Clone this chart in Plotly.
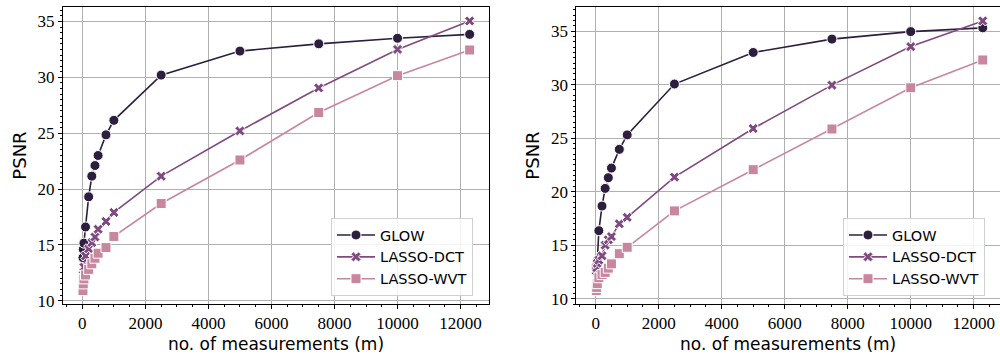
import plotly.graph_objects as go

# ---------------- data ----------------
m = [20, 30, 50, 100, 200, 300, 400, 500, 750, 1000, 2500, 5000, 7500, 10000, 12288]

left_glow = [13.85, 14.6, 15.15, 16.6, 19.3, 21.15, 22.1, 23.0, 24.85, 26.15, 30.2, 32.35, 33.0, 33.5, 33.85]
left_dct = [11.5, 12.3, 13.0, 14.0, 14.65, 15.2, 15.7, 16.4, 17.1, 17.9, 21.15, 25.2, 29.05, 32.5, 35.05]
left_wvt = [10.9, 11.5, 11.95, 12.3, 12.8, 13.3, 13.8, 14.25, 14.75, 15.75, 18.7, 22.6, 26.85, 30.15, 32.45]

right_glow = [12.9, 13.1, 13.5, 16.35, 18.65, 20.3, 21.3, 22.2, 23.95, 25.3, 30.05, 33.0, 34.25, 34.95, 35.3]
right_dct = [12.6, 12.9, 13.3, 13.6, 14.0, 15.0, 15.5, 15.8, 17.0, 17.6, 21.35, 25.9, 29.95, 33.55, 35.95]
right_wvt = [10.75, 11.05, 11.4, 11.95, 12.25, 12.45, 12.85, 13.25, 14.2, 14.8, 18.2, 22.05, 25.85, 29.7, 32.3]

series_names = ["GLOW", "LASSO-DCT", "LASSO-WVT"]
x_title = "no. of measurements (m)"
y_title = "PSNR"

# ---------------- style ----------------
colors = ["#2d1e3e", "#7f4a80", "#c8869f"]
symbols = ["circle", "x", "square"]
msizes = [10, 9, 10]

fig = go.Figure()

panels = [
    (left_glow, left_dct, left_wvt, "x", "y", "legend"),
    (right_glow, right_dct, right_wvt, "x2", "y2", "legend2"),
]
for vals_g, vals_d, vals_w, xa, ya, lg in panels:
    for name, vals, c, s, ms in zip(series_names, [vals_g, vals_d, vals_w], colors, symbols, msizes):
        fig.add_trace(go.Scatter(
            x=m, y=vals, name=name, mode="lines+markers",
            line=dict(color=c, width=1.6),
            marker=dict(symbol=s, size=ms, color=c, line=dict(color="white", width=1)),
            xaxis=xa, yaxis=ya, legend=lg,
        ))

tick_font = dict(family="'Liberation Serif', 'Times New Roman', Times, serif", size=17, color="black")
title_font = dict(family="DejaVu Sans", size=17, color="black")

def xaxis(domain, rng, anchor):
    return dict(
        domain=domain, range=rng, anchor=anchor, automargin=False,
        dtick=2000, tick0=0, tickformat="d", ticks="outside", ticklen=4, tickcolor="black",
        minor=dict(dtick=500, tick0=0, ticks="outside", ticklen=2, tickcolor="black", showgrid=False),
        showgrid=True, gridcolor="#b0b0b0", gridwidth=1,
        showline=True, linecolor="black", linewidth=1, mirror=True,
        zeroline=False, tickfont=tick_font,
        title=dict(text=x_title, font=title_font, standoff=5),
    )

def yaxis(domain, rng, anchor):
    return dict(
        domain=domain, range=rng, anchor=anchor, automargin=False,
        dtick=5, tick0=0, ticks="outside", ticklen=4, tickcolor="black",
        minor=dict(dtick=0.5, tick0=0, ticks="outside", ticklen=2, tickcolor="black", showgrid=False),
        showgrid=True, gridcolor="#b0b0b0", gridwidth=1,
        showline=True, linecolor="black", linewidth=1, mirror=True,
        zeroline=False, tickfont=tick_font,
        title=dict(text=y_title, font=dict(family="DejaVu Sans", size=18, color="black"), standoff=6),
    )

ydom = [54 / 358, 351 / 358]
legend_style = dict(
    bgcolor="rgba(255,255,255,0.85)", bordercolor="#d0d0d0", borderwidth=1,
    font=dict(family="DejaVu Sans", size=14.5, color="black"),
    xanchor="left", yanchor="bottom", tracegroupgap=0, itemwidth=38,
)

fig.update_layout(
    width=1000, height=358,
    margin=dict(l=0, r=0, t=0, b=0),
    paper_bgcolor="white", plot_bgcolor="white",
    showlegend=True,
    xaxis=xaxis([0.063, 0.489], [-614, 12902], "y"),
    yaxis=yaxis(ydom, [9.7, 36.3], "x"),
    xaxis2=xaxis([0.5763, 1.0], [-616, 12835], "y2"),
    yaxis2=yaxis(ydom, [9.5, 37.25], "x2"),
    legend=dict(x=0.331, y=0.173, **legend_style),
    legend2=dict(x=0.843, y=0.173, **legend_style),
)

fig.write_html(
    "out.html",
    config={"displayModeBar": False},
    post_script="document.body.style.margin='0';document.body.style.overflow='hidden';",
)
